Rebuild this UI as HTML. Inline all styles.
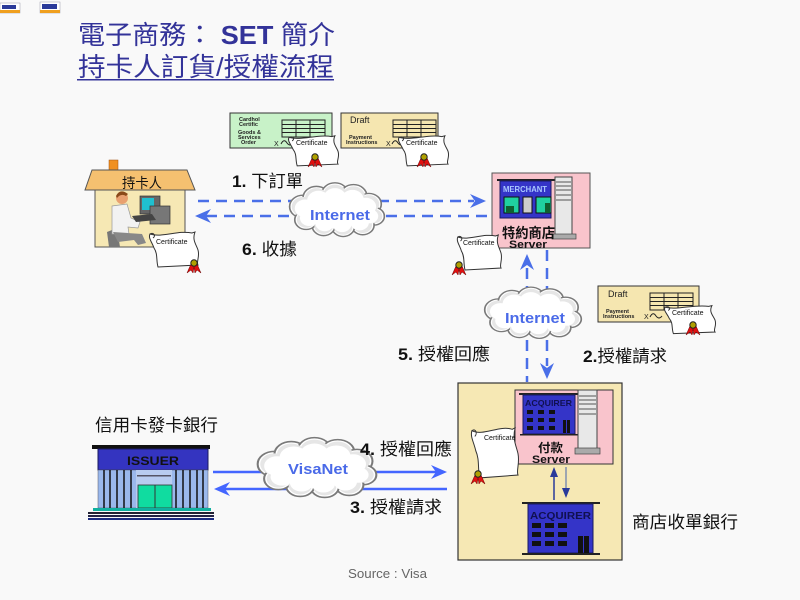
<!DOCTYPE html>
<html><head><meta charset="utf-8">
<style>
html,body{margin:0;padding:0;background:#f9f9f9;}
svg{display:block;}
text{font-family:"Liberation Sans","Noto Sans CJK TC",sans-serif;}
</style></head><body>
<svg width="800" height="600" viewBox="0 0 800 600" xmlns="http://www.w3.org/2000/svg">
<defs>
 <g id="cloud">
  <g fill="#fff" stroke="#7a7a7a" stroke-width="1.6" vector-effect="non-scaling-stroke">
   <circle cx="-33" cy="-5" r="13"/><circle cx="-20" cy="-15" r="13"/><circle cx="-2" cy="-19" r="13"/>
   <circle cx="16" cy="-17" r="13"/><circle cx="31" cy="-8" r="12"/><circle cx="36" cy="6" r="10"/>
   <circle cx="25" cy="16" r="11"/><circle cx="6" cy="18" r="11"/><circle cx="-13" cy="17" r="11"/>
   <circle cx="-30" cy="10" r="11"/>
  </g>
  <g fill="#e6e6e6">
   <circle cx="-33" cy="-5" r="11"/><circle cx="-20" cy="-15" r="11"/><circle cx="-2" cy="-19" r="11"/>
   <circle cx="16" cy="-17" r="11"/><circle cx="31" cy="-8" r="10"/><circle cx="36" cy="6" r="8"/>
   <circle cx="25" cy="16" r="9"/><circle cx="6" cy="18" r="9"/><circle cx="-13" cy="17" r="9"/>
   <circle cx="-30" cy="10" r="9"/>
  </g>
  <g fill="#fff">
   <circle cx="-31" cy="-3" r="10"/><circle cx="-18" cy="-12" r="11"/><circle cx="-2" cy="-15" r="11"/>
   <circle cx="15" cy="-13" r="11"/><circle cx="28" cy="-5" r="10"/><circle cx="32" cy="6" r="8"/>
   <circle cx="22" cy="13" r="9"/><circle cx="5" cy="15" r="9"/><circle cx="-12" cy="14" r="9"/>
   <circle cx="-27" cy="8" r="9"/><circle cx="0" cy="0" r="20"/><circle cx="-15" cy="0" r="16"/><circle cx="15" cy="0" r="16"/>
  </g>
 </g>
 <g id="certshape">
  <path d="M2,4 C14,8 30,0 44,3 L47,2 C44,10 48,14 50,20 C52,27 48,32 50,35 L10,37 C8,30 10,24 6,18 C4,12 0,8 2,4 Z" fill="#fff" stroke="#333" stroke-width="1" vector-effect="non-scaling-stroke"/>
  <path d="M2,4 C6,2 8,6 5,8" fill="none" stroke="#333" stroke-width="1" vector-effect="non-scaling-stroke"/>
 </g>
 <g id="seal">
  <path d="M-3,1 L-7,10 L-3,7 L-1,10 L0,4 L1,10 L3,7 L7,10 L3,1 Z" fill="#e01010" stroke="#600" stroke-width="0.5"/>
  <circle cx="0" cy="0" r="3.2" fill="#b0a000" stroke="#222" stroke-width="1"/>
 </g>
 <g id="grid">
  <rect x="0" y="0" width="43" height="17" fill="none" stroke="#222" stroke-width="1"/>
  <path d="M0,4.5H43M0,8.5H43M0,12.5H43M14,0V17M28,0V17" stroke="#222" stroke-width="1"/>
 </g>
</defs>

<!-- visa cards -->
<rect x="0" y="3" width="20" height="10" fill="#fff" stroke="#99a" stroke-width="0.5"/>
<rect x="0" y="10" width="20" height="3" fill="#f0a020"/>
<rect x="2" y="5" width="14" height="4" fill="#2a3a9a"/>
<rect x="40" y="2" width="20" height="11" fill="#fff" stroke="#99a" stroke-width="0.5"/>
<rect x="40" y="10" width="20" height="3" fill="#f0a020"/>
<rect x="42" y="4" width="15" height="5" fill="#2a3a9a"/>

<!-- title -->
<text x="78" y="44" font-size="26" fill="#333399" textLength="257" lengthAdjust="spacingAndGlyphs">電子商務： <tspan font-weight="bold">SET</tspan> 簡介</text>
<text x="78" y="76" font-size="26" fill="#333399" textLength="256" lengthAdjust="spacingAndGlyphs">持卡人訂貨/授權流程</text>
<rect x="77" y="79" width="257" height="1.5" fill="#333399"/>

<!-- doc1 -->
<rect x="230" y="113" width="102" height="35" fill="#c8f2c8" stroke="#333" stroke-width="1"/>
<g font-size="5.5" font-weight="bold" fill="#222">
 <text x="239" y="121">Cardhol</text><text x="239" y="126">Certific</text>
 <text x="238" y="134">Goods &amp;</text><text x="238" y="139">Services</text><text x="241" y="144">Order</text>
</g>
<use href="#grid" x="282" y="120"/>
<text x="274" y="146" font-size="7" fill="#222">X</text>
<path d="M281,144 q3,-6 6,-1 q3,4 6,0" fill="none" stroke="#222"/>
<use href="#certshape" transform="translate(287,134) scale(1.02,0.86)"/>
<text x="296" y="145" font-size="7" fill="#111">Certificate</text>
<use href="#seal" x="315" y="157"/>

<!-- doc2 -->
<rect x="341" y="113" width="97" height="35" fill="#f5e6b0" stroke="#333" stroke-width="1"/>
<text x="350" y="123" font-size="9" fill="#222">Draft</text>
<g font-size="5.5" font-weight="bold" fill="#222">
 <text x="349" y="139">Payment</text><text x="346" y="144">Instructions</text>
</g>
<use href="#grid" x="393" y="120"/>
<text x="386" y="146" font-size="7" fill="#222">X</text>
<path d="M392,144 q3,-6 6,-1 q3,4 6,0" fill="none" stroke="#222"/>
<use href="#certshape" transform="translate(397,134) scale(1.02,0.86)"/>
<text x="406" y="145" font-size="7" fill="#111">Certificate</text>
<use href="#seal" x="424" y="157"/>

<!-- house -->
<rect x="109" y="160" width="9" height="11" fill="#f09020" stroke="#a05010" stroke-width="0.5"/>
<polygon points="92,170 187,170 195,190 85,190" fill="#f5c070" stroke="#555" stroke-width="1"/>
<text x="122" y="188" font-size="14" fill="#111" textLength="40" lengthAdjust="spacingAndGlyphs">持卡人</text>
<rect x="95" y="190" width="90" height="57" fill="#f6e8b4" stroke="#555" stroke-width="1"/>
<!-- person -->
<path d="M107,232 L117,228 L120,247 L109,247 Z" fill="#777"/>
<path d="M112,206 L127,204 L131,218 L140,222 L138,228 L128,227 L129,234 L112,234 Z" fill="#f2f2f2" stroke="#999" stroke-width="0.7"/>
<path d="M113,232 L142,234 L146,243 L138,245 L134,240 L118,242 Z" fill="#888"/>
<circle cx="122" cy="198" r="6" fill="#e8a070"/>
<path d="M116,196 q4,-8 12,-2 l-2,2 q-5,-3 -9,2 z" fill="#8a4a1a"/>
<rect x="140" y="196" width="20" height="18" fill="#666" stroke="#333" stroke-width="0.7"/>
<rect x="142" y="198" width="12" height="12" fill="#20c0d0"/>
<rect x="150" y="206" width="20" height="18" fill="#777" stroke="#333" stroke-width="0.7"/>
<path d="M132,216 L152,214 L156,220 L136,222 Z" fill="#444"/>
<!-- house cert -->
<use href="#certshape" transform="translate(148,230)"/>
<text x="156" y="244" font-size="7" fill="#111">Certificate</text>
<use href="#seal" x="194" y="263"/>

<!-- Internet arrows top -->
<line x1="198" y1="201" x2="474" y2="201" stroke="#4a6fe8" stroke-width="2.5" stroke-dasharray="11,7"/>
<path d="M486,201 L470,194 L475,201 L470,208 Z" fill="#4a6fe8"/>
<line x1="206" y1="216" x2="492" y2="216" stroke="#4a6fe8" stroke-width="2.5" stroke-dasharray="11,7"/>
<path d="M195,216 L211,209 L206,216 L211,223 Z" fill="#4a6fe8"/>
<use href="#cloud" transform="translate(337,211) scale(1.03,0.88)"/>
<text x="310" y="220" font-size="15" font-weight="bold" fill="#4a6ae8" textLength="60" lengthAdjust="spacingAndGlyphs">Internet</text>

<text x="232" y="187" font-size="17" fill="#111" textLength="71" lengthAdjust="spacingAndGlyphs"><tspan font-weight="bold">1.</tspan> 下訂單</text>
<text x="242" y="255" font-size="17" fill="#111" textLength="55" lengthAdjust="spacingAndGlyphs"><tspan font-weight="bold">6.</tspan> 收據</text>

<!-- merchant -->
<rect x="492" y="173" width="98" height="75" fill="#f9c4cc" stroke="#555" stroke-width="1"/>
<rect x="497" y="179" width="58" height="2" fill="#222"/>
<rect x="500" y="181" width="51" height="37" fill="#3434c8" stroke="#1a1a60" stroke-width="1"/>
<text x="503" y="192" font-size="8" font-weight="bold" fill="#aac8ff" textLength="44" lengthAdjust="spacingAndGlyphs">MERCHANT</text>
<rect x="504" y="197" width="15" height="16" fill="#20d0a0" stroke="#111" stroke-width="1"/>
<rect x="506" y="206" width="8" height="7" fill="#106030"/>
<rect x="523" y="197" width="9" height="16" fill="#ccc" stroke="#111" stroke-width="1"/>
<rect x="536" y="197" width="15" height="16" fill="#20d0a0" stroke="#111" stroke-width="1"/>
<rect x="545" y="203" width="5" height="10" fill="#106030"/>
<rect x="555" y="177" width="17" height="58" fill="#e8e8e8" stroke="#444" stroke-width="1"/>
<path d="M556,182H571M556,186H571M556,190H571M556,195H571M556,200H571" stroke="#555" stroke-width="1"/>
<rect x="552" y="234" width="24" height="5" fill="#aaa" stroke="#444" stroke-width="0.7"/>
<text x="502" y="238" font-size="14" font-weight="bold" fill="#111" textLength="53" lengthAdjust="spacingAndGlyphs">特約商店</text>
<text x="509" y="248" font-size="11" font-weight="bold" fill="#111" textLength="38" lengthAdjust="spacingAndGlyphs">Server</text>
<use href="#certshape" transform="translate(456,233) scale(0.9,1)"/>
<text x="463" y="245" font-size="7" fill="#111">Certificate</text>
<use href="#seal" x="459" y="265"/>

<!-- vertical internet arrows -->
<line x1="527" y1="268" x2="527" y2="382" stroke="#4a6fe8" stroke-width="2.5" stroke-dasharray="11,7"/>
<path d="M527,254 L520,270 L527,265 L534,270 Z" fill="#4a6fe8"/>
<line x1="547" y1="250" x2="547" y2="366" stroke="#4a6fe8" stroke-width="2.5" stroke-dasharray="11,7"/>
<path d="M547,379 L540,363 L547,368 L554,363 Z" fill="#4a6fe8"/>
<use href="#cloud" transform="translate(533,314) scale(1.05,0.84)"/>
<text x="505" y="323" font-size="15" font-weight="bold" fill="#4a6ae8" textLength="60" lengthAdjust="spacingAndGlyphs">Internet</text>

<text x="398" y="360" font-size="17" fill="#111" textLength="92" lengthAdjust="spacingAndGlyphs"><tspan font-weight="bold">5.</tspan> 授權回應</text>
<text x="583" y="362" font-size="17" fill="#111" textLength="84" lengthAdjust="spacingAndGlyphs"><tspan font-weight="bold">2.</tspan>授權請求</text>

<!-- doc3 -->
<rect x="598" y="286" width="101" height="36" fill="#f5e6b0" stroke="#333" stroke-width="1"/>
<text x="608" y="297" font-size="9" fill="#222">Draft</text>
<g font-size="5.5" font-weight="bold" fill="#222">
 <text x="606" y="313">Payment</text><text x="603" y="318">Instructions</text>
</g>
<use href="#grid" x="650" y="293"/>
<text x="644" y="319" font-size="7" fill="#222">X</text>
<path d="M650,317 q3,-6 6,-1 q3,4 6,0" fill="none" stroke="#222"/>
<use href="#certshape" transform="translate(663,304) scale(1.04,0.8)"/>
<text x="672" y="315" font-size="7" fill="#111">Certificate</text>
<use href="#seal" x="693" y="325"/>

<!-- acquirer box -->
<rect x="458" y="383" width="164" height="177" fill="#f6e8b4" stroke="#333" stroke-width="1.2"/>
<rect x="515" y="390" width="98" height="74" fill="#f9c4cc" stroke="#333" stroke-width="1"/>
<rect x="519" y="393" width="60" height="2" fill="#222"/>
<rect x="523" y="395" width="52" height="39" fill="#3434c8" stroke="#1a1a60" stroke-width="1"/>
<text x="525" y="406" font-size="8.5" font-weight="bold" fill="#101050" textLength="47" lengthAdjust="spacingAndGlyphs">ACQUIRER</text>
<g fill="#111">
 <rect x="527" y="410" width="6" height="4"/><rect x="538" y="410" width="6" height="4"/><rect x="549" y="410" width="6" height="4"/>
 <rect x="527" y="418" width="6" height="4"/><rect x="538" y="418" width="6" height="4"/><rect x="549" y="418" width="6" height="4"/>
 <rect x="527" y="426" width="6" height="4"/><rect x="538" y="426" width="6" height="4"/><rect x="549" y="426" width="6" height="4"/>
 <rect x="563" y="420" width="3" height="13"/><rect x="567" y="420" width="3" height="13"/>
</g>
<rect x="520" y="434" width="60" height="1.5" fill="#222"/>
<rect x="578" y="390" width="19" height="60" fill="#e8e8e8" stroke="#444" stroke-width="1"/>
<path d="M579,396H596M579,400H596M579,404H596M579,409H596M579,414H596" stroke="#555" stroke-width="1"/>
<rect x="575" y="448" width="25" height="6" fill="#aaa" stroke="#444" stroke-width="0.7"/>
<text x="538" y="452" font-size="12" font-weight="bold" fill="#111" textLength="25" lengthAdjust="spacingAndGlyphs">付款</text>
<text x="532" y="463" font-size="11" font-weight="bold" fill="#111" textLength="38" lengthAdjust="spacingAndGlyphs">Server</text>
<use href="#certshape" transform="translate(470,425) scale(0.96,1.43)"/>
<text x="484" y="440" font-size="7" fill="#111">Certificate</text>
<use href="#seal" x="478" y="474"/>
<!-- thin arrows -->
<line x1="554" y1="500" x2="554" y2="474" stroke="#2a3a9a" stroke-width="1.5"/>
<path d="M554,467 L550,477 L558,477 Z" fill="#2a3a9a"/>
<line x1="566" y1="467" x2="566" y2="492" stroke="#8090b0" stroke-width="1.5"/>
<path d="M566,498 L562,488 L570,488 Z" fill="#2a3a9a"/>
<!-- bottom acquirer building -->
<rect x="522" y="502" width="78" height="2" fill="#222"/>
<rect x="528" y="504" width="65" height="49" fill="#3434c8" stroke="#1a1a60" stroke-width="1"/>
<text x="530" y="519" font-size="10.5" font-weight="bold" fill="#101050" textLength="61" lengthAdjust="spacingAndGlyphs">ACQUIRER</text>
<g fill="#111">
 <rect x="532" y="523" width="9" height="5"/><rect x="545" y="523" width="9" height="5"/><rect x="558" y="523" width="9" height="5"/>
 <rect x="532" y="532" width="9" height="5"/><rect x="545" y="532" width="9" height="5"/><rect x="558" y="532" width="9" height="5"/>
 <rect x="532" y="541" width="9" height="5"/><rect x="545" y="541" width="9" height="5"/><rect x="558" y="541" width="9" height="5"/>
 <rect x="578" y="536" width="5" height="17"/><rect x="584" y="536" width="5" height="17"/>
</g>
<rect x="522" y="553" width="78" height="2" fill="#222"/>

<text x="632" y="528" font-size="17" fill="#111" textLength="106" lengthAdjust="spacingAndGlyphs">商店收單銀行</text>

<!-- issuer -->
<text x="95" y="431" font-size="17" fill="#111" textLength="123" lengthAdjust="spacingAndGlyphs">信用卡發卡銀行</text>
<rect x="92" y="445" width="118" height="4" fill="#111"/>
<rect x="98" y="449" width="110" height="21" fill="#3434c0" stroke="#1a1a60" stroke-width="1"/>
<text x="127" y="465" font-size="12" font-weight="bold" fill="#111" textLength="52" lengthAdjust="spacingAndGlyphs">ISSUER</text>
<rect x="98" y="470" width="110" height="38" fill="#9ab8ec" stroke="#556" stroke-width="0.5"/>
<path d="M104,470V508M110,470V508M117,470V508M124,470V508M131,470V508M176,470V508M183,470V508M190,470V508M197,470V508M203,470V508" stroke="#111" stroke-width="1.5"/>
<rect x="136" y="470" width="36" height="38" fill="#b8ccf0"/>
<rect x="137" y="475" width="34" height="1.5" fill="#556"/>
<rect x="138" y="485" width="34" height="23" fill="#10dca0" stroke="#333" stroke-width="0.8"/>
<rect x="154.5" y="485" width="1" height="23" fill="#333"/>
<rect x="93" y="508" width="118" height="3" fill="#10b0a0"/>
<rect x="88" y="512" width="126" height="2" fill="#223"/>
<rect x="88" y="515" width="126" height="2" fill="#224"/>
<rect x="88" y="518" width="126" height="2" fill="#1a2a80"/>

<!-- VisaNet arrows -->
<line x1="213" y1="472" x2="436" y2="472" stroke="#4466ff" stroke-width="2.5"/>
<path d="M447,472 L431,465 L436,472 L431,479 Z" fill="#4466ff"/>
<line x1="224" y1="489" x2="447" y2="489" stroke="#4466ff" stroke-width="2.5"/>
<path d="M214,489 L230,482 L225,489 L230,496 Z" fill="#4466ff"/>
<use href="#cloud" transform="translate(317,469) scale(1.29,0.98)"/>
<text x="288" y="474" font-size="15" font-weight="bold" fill="#4a6ae8" textLength="60" lengthAdjust="spacingAndGlyphs">VisaNet</text>

<text x="360" y="455" font-size="17" fill="#111" textLength="92" lengthAdjust="spacingAndGlyphs"><tspan font-weight="bold">4.</tspan> 授權回應</text>
<text x="350" y="513" font-size="17" fill="#111" textLength="92" lengthAdjust="spacingAndGlyphs"><tspan font-weight="bold">3.</tspan> 授權請求</text>

<text x="348" y="578" font-size="12.5" fill="#666" textLength="79" lengthAdjust="spacingAndGlyphs">Source : Visa</text>
</svg>
</body></html>
